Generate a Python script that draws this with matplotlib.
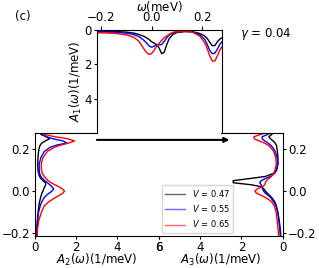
import matplotlib
matplotlib.use('Agg')
import matplotlib.pyplot as plt

# energy grid (meV), shared by all panels
w = [-0.22, -0.18, -0.14, -0.10, -0.07, -0.05, -0.03, -0.02, -0.01, 0.0,
     0.01, 0.02, 0.03, 0.04, 0.05, 0.06, 0.07, 0.085, 0.10, 0.13,
     0.16, 0.19, 0.21, 0.22, 0.23, 0.24, 0.25, 0.26, 0.27, 0.28]

labels = ['$V$ = 0.47', '$V$ = 0.55', '$V$ = 0.65']
colors = ['k', 'b', 'r']

A1_047 = [0.07, 0.08, 0.09, 0.12, 0.18, 0.26, 0.37, 0.45, 0.55, 0.68,
          0.76, 0.85, 1.05, 1.38, 1.30, 0.85, 0.50, 0.25, 0.15, 0.09,
          0.09, 0.20, 0.35, 0.50, 0.72, 0.92, 0.90, 0.68, 0.52, 0.44]
A1_055 = [0.10, 0.11, 0.13, 0.18, 0.27, 0.38, 0.60, 0.75, 0.92, 1.00,
          0.95, 0.85, 0.87, 0.85, 0.66, 0.45, 0.28, 0.16, 0.11, 0.08,
          0.10, 0.28, 0.55, 0.85, 1.20, 1.38, 1.35, 1.10, 0.82, 0.65]
A1_065 = [0.16, 0.17, 0.20, 0.28, 0.42, 0.65, 1.10, 1.30, 1.42, 1.38,
          1.18, 0.95, 0.78, 0.60, 0.45, 0.35, 0.25, 0.13, 0.10, 0.08,
          0.12, 0.35, 0.75, 1.10, 1.52, 1.82, 1.80, 1.50, 1.15, 0.92]

A2_047 = [0.08, 0.10, 0.12, 0.15, 0.18, 0.22, 0.27, 0.30, 0.33, 0.38,
          0.42, 0.46, 0.52, 0.50, 0.38, 0.28, 0.22, 0.17, 0.14, 0.13,
          0.14, 0.17, 0.21, 0.25, 0.33, 0.50, 0.70, 0.55, 0.30, 0.20]
A2_055 = [0.06, 0.08, 0.11, 0.17, 0.25, 0.33, 0.45, 0.55, 0.68, 0.82,
          0.90, 0.83, 0.72, 0.60, 0.47, 0.36, 0.28, 0.22, 0.20, 0.20,
          0.28, 0.45, 0.75, 1.05, 1.55, 1.35, 0.87, 0.55, 0.35, 0.28]
A2_065 = [0.10, 0.12, 0.18, 0.31, 0.45, 0.68, 1.00, 1.18, 1.35, 1.43,
          1.33, 1.18, 0.97, 0.78, 0.63, 0.54, 0.45, 0.35, 0.31, 0.30,
          0.38, 0.60, 0.95, 1.25, 1.65, 1.92, 1.60, 0.95, 0.50, 0.35]

A3_047 = [0.12, 0.15, 0.20, 0.25, 0.32, 0.40, 0.55, 0.65, 0.75, 0.85,
          0.92, 1.02, 1.50, 2.40, 2.40, 1.60, 0.85, 0.45, 0.33, 0.25,
          0.24, 0.27, 0.30, 0.32, 0.38, 0.48, 0.60, 0.68, 0.55, 0.45]
A3_055 = [0.10, 0.13, 0.18, 0.25, 0.34, 0.45, 0.60, 0.72, 0.85, 0.93,
          0.98, 1.00, 1.05, 1.12, 1.05, 0.85, 0.60, 0.40, 0.30, 0.24,
          0.28, 0.38, 0.50, 0.60, 0.72, 0.88, 1.00, 1.00, 0.75, 0.55]
A3_065 = [0.20, 0.24, 0.28, 0.33, 0.42, 0.55, 0.85, 1.05, 1.28, 1.35,
          1.25, 1.00, 0.88, 0.85, 0.80, 0.68, 0.55, 0.45, 0.38, 0.32,
          0.35, 0.45, 0.60, 0.72, 0.90, 1.15, 1.38, 1.40, 1.10, 0.80]

A1 = [A1_047, A1_055, A1_065]
A2 = [A2_047, A2_055, A2_065]
A3 = [A3_047, A3_055, A3_065]

plt.rcParams['font.size'] = 8.5
fig = plt.figure(figsize=(3.19, 2.68), dpi=100)

wlim = (-0.215, 0.278)

# bottom left: A2
ax2 = fig.add_axes([0.110, 0.119, 0.387, 0.385])
for a, c in zip(A2, colors):
    ax2.plot(a, w, color=c, lw=1)
ax2.set_xlim(0, 6)
ax2.set_ylim(wlim)
ax2.set_xticks([0, 2, 4, 6])
ax2.set_yticks([-0.2, 0.0, 0.2])
ax2.tick_params(length=2.5, pad=1.2)
ax2.spines['right'].set_visible(False)
ax2.spines['top'].set_bounds(0, 3)
ax2.set_xlabel(r'$A_2(\omega)$(1/meV)', labelpad=-1.5)

# bottom right: A3
ax3 = fig.add_axes([0.497, 0.119, 0.390, 0.385])
for a, c, l in zip(A3, colors, labels):
    ax3.plot(a, w, color=c, lw=1, label=l)
ax3.set_xlim(6, 0)
ax3.set_ylim(wlim)
ax3.set_xticks([0, 2, 4, 6])
ax3.set_yticks([-0.2, 0.0, 0.2])
ax3.yaxis.tick_right()
ax3.tick_params(length=2.5, pad=1.2)
ax3.spines['left'].set_visible(False)
ax3.spines['top'].set_bounds(0, 3)
ax3.set_xlabel(r'$A_3(\omega)$(1/meV)', labelpad=-1.5)
leg = ax3.legend(loc='lower left', fontsize=6, handlelength=2.4,
                 borderaxespad=0.4)
for ln in leg.get_lines():
    ln.set_alpha(0.6)

# top: A1
ax1 = fig.add_axes([0.304, 0.504, 0.392, 0.384])
for a, c in zip(A1, colors):
    ax1.plot(w, a, color=c, lw=1)
ax1.set_xlim(wlim)
ax1.set_ylim(6, 0)
ax1.set_xticks([-0.2, 0.0, 0.2])
ax1.set_yticks([0, 2, 4])
ax1.xaxis.tick_top()
ax1.xaxis.set_label_position('top')
ax1.tick_params(axis='x', length=3, pad=1)
ax1.tick_params(axis='y', length=2.5, pad=1.2)
ax1.spines['bottom'].set_visible(False)
ax1.set_xlabel(r'$\omega$(meV)', labelpad=0)
ax1.set_ylabel(r'$A_1(\omega)$(1/meV)', labelpad=0)

fig.text(0.047, 0.937, '(c)', fontsize=8.5, va='center')
fig.text(0.752, 0.873, r'$\gamma$ = 0.04', fontsize=8.5, va='center')
fig.add_artist(matplotlib.patches.FancyArrowPatch(
    (0.295, 0.478), (0.728, 0.478), transform=fig.transFigure,
    arrowstyle='-|>', mutation_scale=7, lw=1.5, color='k'))

fig.savefig('out.png', dpi=100)
